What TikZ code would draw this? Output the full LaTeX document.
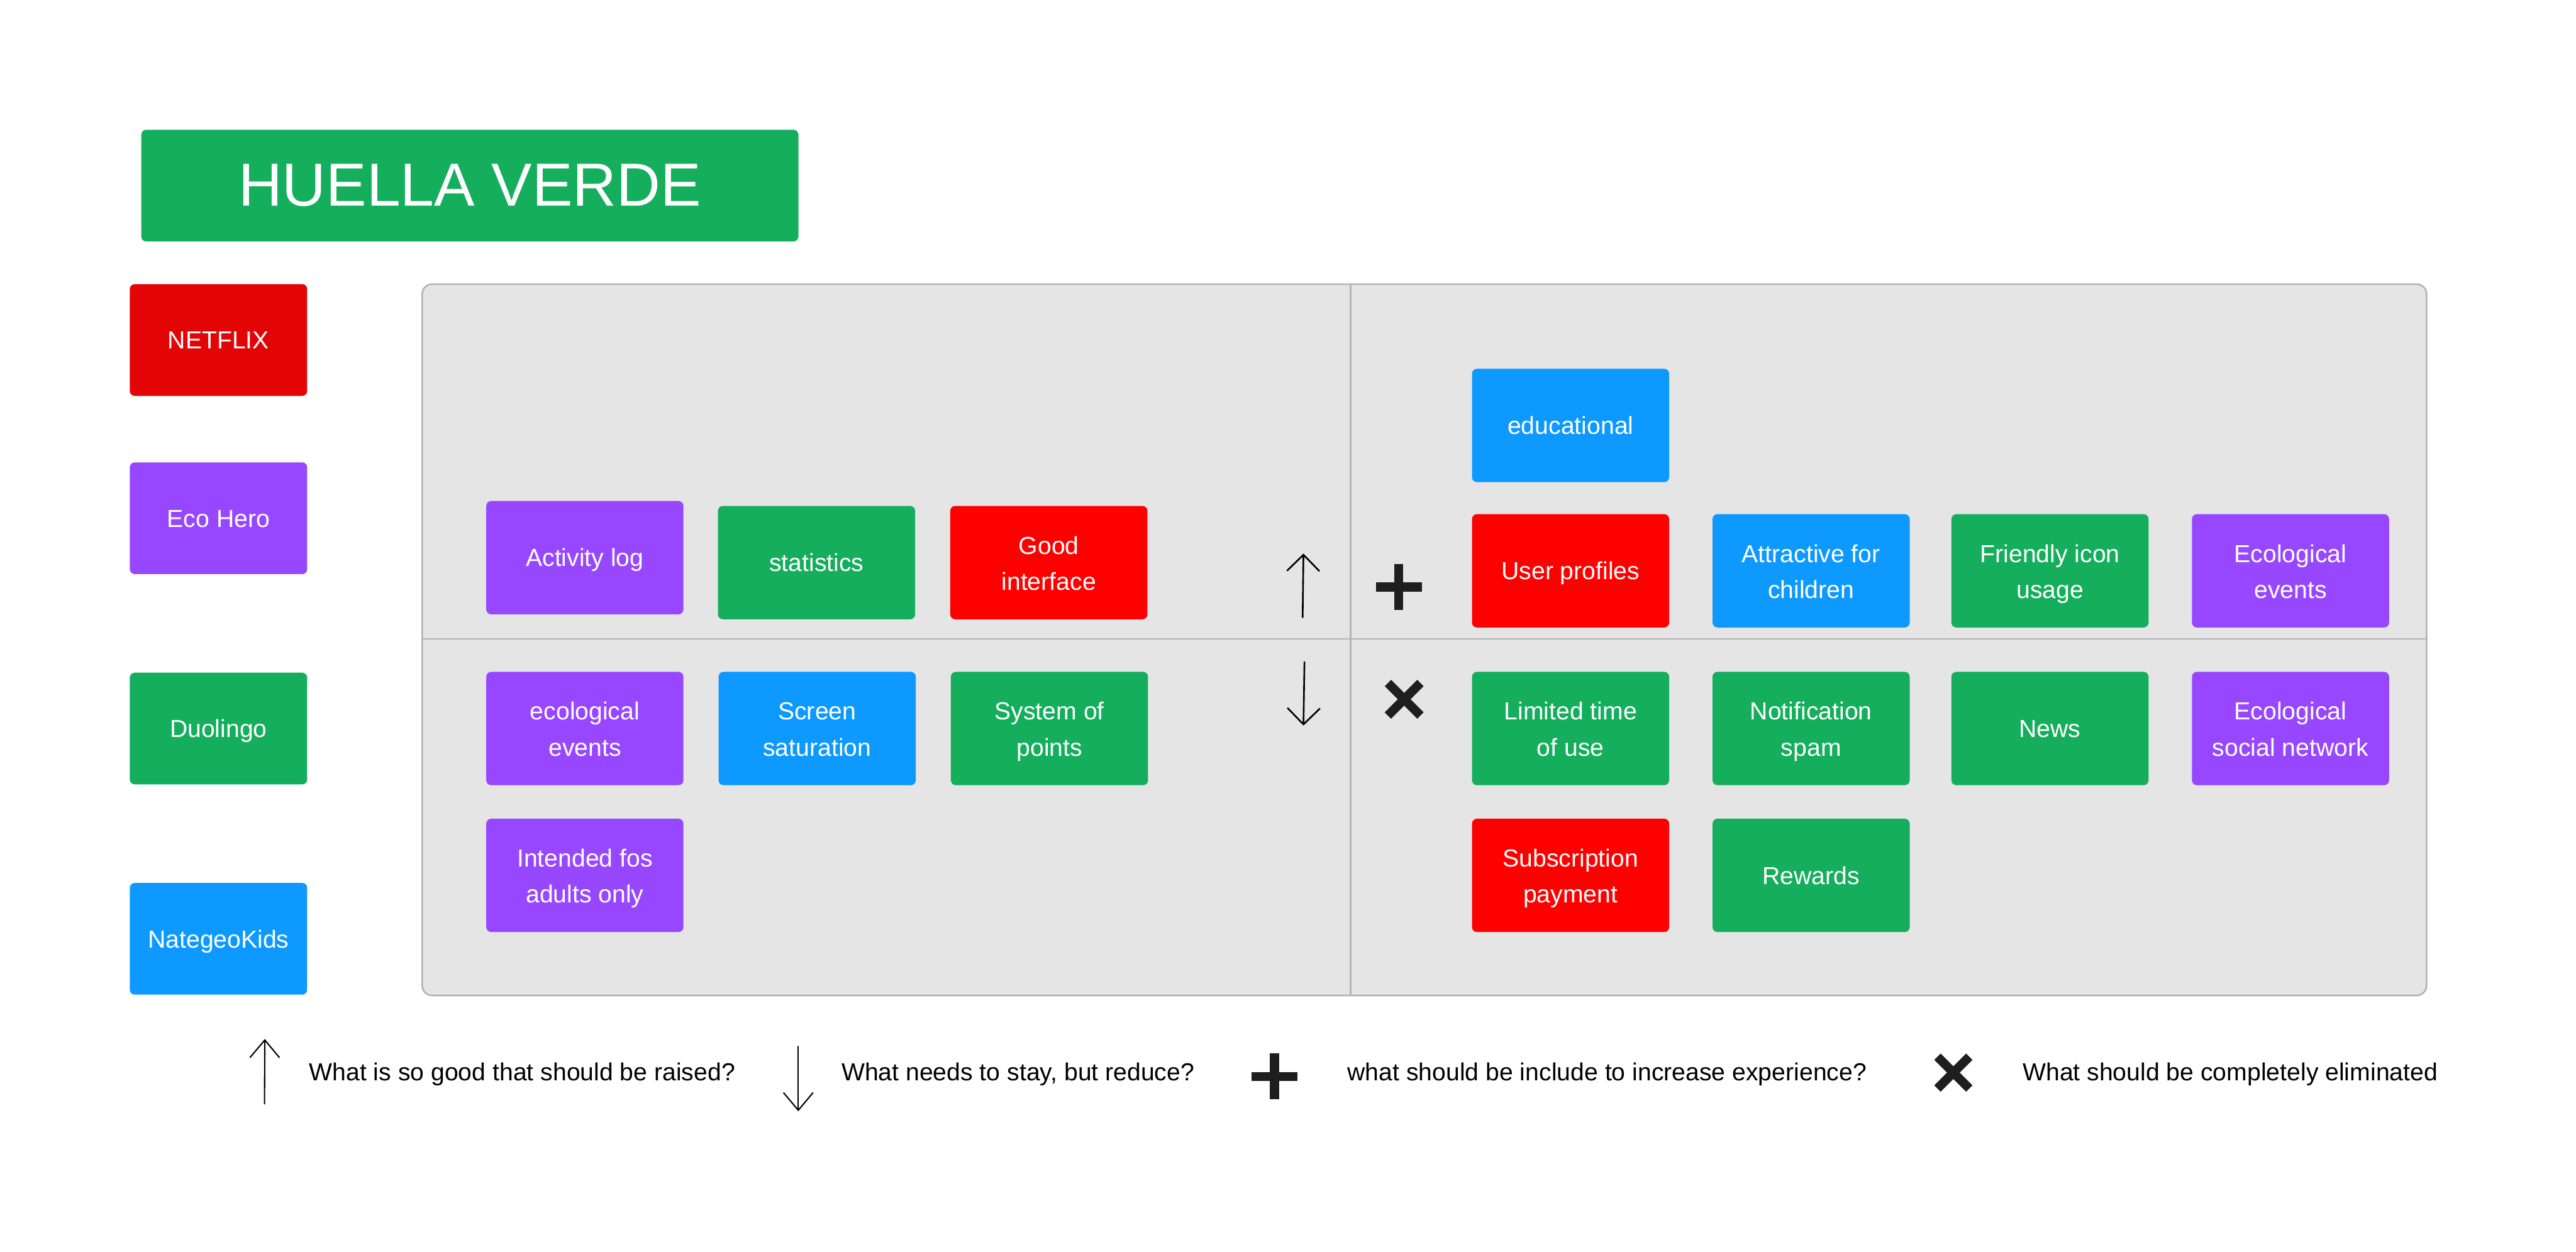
\documentclass[tikz,border=0pt]{standalone}
\usepackage{fontspec}
\setmainfont{Liberation Sans}
\usetikzlibrary{arrows.meta, positioning}
\definecolor{figgreen}{HTML}{14AE5C}
\definecolor{figpurple}{HTML}{9747FF}
\definecolor{figblue}{HTML}{0D99FF}
\definecolor{figred}{HTML}{FF0000}
\definecolor{netred}{HTML}{E30505}
\definecolor{panelbg}{HTML}{E5E5E5}
\definecolor{panelline}{HTML}{B3B3B3}
\definecolor{symbol}{HTML}{1E1E1E}

\begin{document}
\begin{tikzpicture}[x=1pt, y=-1pt, >={Straight Barb[angle=90:14pt]}]
    \tikzstyle{tag} = [rectangle, rounded corners=3pt, inner sep=0pt, text=white, align=center]
    \tikzstyle{card} = [tag, minimum width=120pt, minimum height=69pt, font=\fontsize{15}{22}\selectfont, text height=15pt, text depth=4.2pt]
    \tikzstyle{pair} = [card, text height=37.6pt, text depth=4pt]
    \tikzstyle{appbox} = [card, minimum width=108pt, minimum height=68pt]
    \tikzstyle{legend} = [anchor=base west, inner sep=0pt, font=\fontsize{15}{18}\selectfont]
    \tikzstyle{sign} = [line width=5.5pt, color=symbol]
    \tikzstyle{hand} = [->, line width=1pt, line cap=round, line join=round]
    \tikzstyle{divider} = [draw=panelline, line width=1pt]

    \useasboundingbox (0,0) rectangle (1568,762);

    % title and apps
    \node [tag, fill=figgreen, minimum width=400pt, minimum height=68pt, font=\fontsize{37}{40}\selectfont] (title) at (286,113) {HUELLA VERDE};
    \node [appbox, fill=netred] (netflix) at (133,207) {NETFLIX};
    \node [appbox, fill=figpurple] (ecohero) at (133,315.5) {Eco Hero};
    \node [appbox, fill=figgreen] (duolingo) at (133,443.5) {Duolingo};
    \node [appbox, fill=figblue] (natgeo) at (133,571.5) {NategeoKids};

    % board
    \node [rectangle, rounded corners=6pt, fill=panelbg, draw=panelline, line width=1pt, minimum width=1220pt, minimum height=433pt] (board) at (867,389.5) {};
    \coordinate (mid) at (822,389);
    \draw [divider] (mid |- board.north) -- (mid |- board.south);
    \draw [divider] (board.west |- mid) -- (board.east |- mid);

    % raise
    \node [card, fill=figpurple] (actlog) at (356,339.5) {Activity log};
    \node [card, fill=figgreen] (stats) at (497,342.5) {statistics};
    \node [pair, fill=figred, right=21pt of stats] (goodui) {Good\\interface};

    % reduce
    \node [pair, fill=figpurple] (ecoevents) at (356,443.5) {ecological\\events};
    \node [pair, fill=figblue, right=21pt of ecoevents] (screen) {Screen\\saturation};
    \node [pair, fill=figgreen, right=21pt of screen] (points) {System of\\points};
    \node [pair, fill=figpurple, below=20pt of ecoevents] (adults) {Intended fos\\adults only};

    % create
    \node [card, fill=figblue] (edu) at (956,259) {educational};
    \node [card, fill=figred] (profiles) at (956,347.5) {User profiles};
    \node [pair, fill=figblue, right=26pt of profiles] (children) {Attractive for\\children};
    \node [pair, fill=figgreen, right=25pt of children] (icons) {Friendly icon\\usage};
    \node [pair, fill=figpurple, right=26pt of icons] (ecoev) {Ecological\\events};

    % eliminate
    \node [pair, fill=figgreen] (limited) at (956,443.5) {Limited time\\of use};
    \node [pair, fill=figgreen, right=26pt of limited] (spam) {Notification\\spam};
    \node [card, fill=figgreen, right=25pt of spam] (news) {News};
    \node [pair, fill=figpurple, right=26pt of news] (social) {Ecological\\social network};
    \node [pair, fill=figred, below=20pt of limited] (subs) {Subscription\\payment};
    \node [card, fill=figgreen, below=20pt of spam] (rewards) {Rewards};

    % signs on the board
    \coordinate (upfoot) at (792.9,375.8);
    \coordinate (uptip) at (793.4,337);
    \draw [hand] (upfoot) -- (uptip);
    \coordinate (downtop) at (794,403);
    \coordinate (downtip) at (793.4,441.7);
    \draw [hand] (downtop) -- (downtip);
    \coordinate (plusc) at (851.4,357.3);
    \draw [sign] (plusc) ++(-14,0) -- ++(28,0);
    \draw [sign] (plusc) ++(0,-14) -- ++(0,28);
    \coordinate (crossc) at (854.7,425.7);
    \draw [sign] (crossc) ++(-9.9,-9.9) -- ++(19.8,19.8);
    \draw [sign] (crossc) ++(-9.9,9.9) -- ++(19.8,-19.8);

    % legend
    \coordinate (lupfoot) at (161,672);
    \coordinate (luptip) at (161.2,632.5);
    \draw [hand, line width=0.8pt, -{Straight Barb[angle=80:14pt]}] (lupfoot) -- (luptip);
    \node [legend] (lraise) at (188,657.7) {What is so good that should be raised?};
    \coordinate (ldowntop) at (485.9,637);
    \coordinate (ldowntip) at (485.9,676.5);
    \draw [hand, line width=0.8pt, -{Straight Barb[angle=80:14pt]}] (ldowntop) -- (ldowntip);
    \node [legend] (lreduce) at (512,657.7) {What needs to stay, but reduce?};
    \coordinate (lplus) at (775.7,655.3);
    \draw [sign] (lplus) ++(-14,0) -- ++(28,0);
    \draw [sign] (lplus) ++(0,-14) -- ++(0,28);
    \node [legend] (lcreate) at (820,657.7) {what should be include to increase experience?};
    \coordinate (lcross) at (1189,653);
    \draw [sign] (lcross) ++(-9.7,-9.7) -- ++(19.4,19.4);
    \draw [sign] (lcross) ++(-9.7,9.7) -- ++(19.4,-19.4);
    \node [legend] (lelim) at (1231,657.7) {What should be completely eliminated};
\end{tikzpicture}
\end{document}
